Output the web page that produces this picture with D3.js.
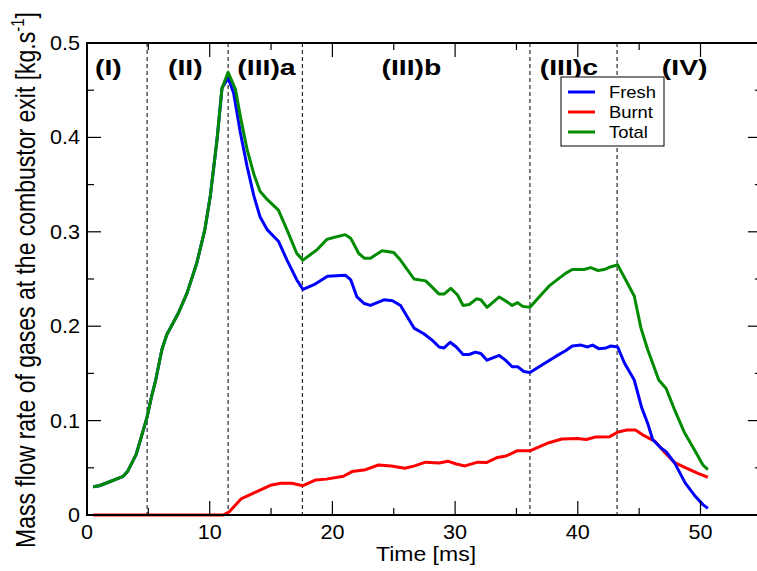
<!DOCTYPE html>
<html><head><meta charset="utf-8">
<script src="https://cdn.jsdelivr.net/npm/d3@7"></script>
<style>html,body{margin:0;padding:0;background:#fff;}svg{display:block;}</style>
</head><body>
<script>
// ---- data ----
const seriesNames = ["Fresh", "Burnt", "Total"];
const seriesColors = ["#0000ff", "#ff0000", "#008b00"];
const fresh = [[0.5,0.030],[1.0,0.031],[2.0,0.036],[2.95,0.041],[3.3,0.046],[4.0,0.064],[4.5,0.086],[4.9,0.104],[5.25,0.125],[5.6,0.143],[6.1,0.175],[6.5,0.191],[7.45,0.214],[8.15,0.235],[8.95,0.267],[9.6,0.302],[10.05,0.338],[10.6,0.398],[11.0,0.452],[11.5,0.463],
 [11.95,0.447],[12.5,0.405],[13.05,0.369],[13.6,0.338],[14.1,0.316],[14.7,0.302],[15.6,0.290],[16.3,0.270],[17.1,0.249],[17.6,0.239],[18.5,0.244],[19.6,0.253],[21.05,0.254],[21.5,0.249],[22.0,0.231],[22.6,0.224],[23.1,0.222],[24.2,0.228],[24.9,0.227],[25.55,0.222],[26.65,0.198],[27.45,0.192],[28.15,0.185],[28.7,0.178],[29.1,0.177],[29.6,0.183],[30.1,0.178],[30.65,0.170],[31.15,0.170],[31.65,0.1725],[32.1,0.171],[32.6,0.164],[33.6,0.169],[34.1,0.164],[34.65,0.157],[35.1,0.157],[35.6,0.152],[36.1,0.151],[36.85,0.157],[37.7,0.164],[38.2,0.168],[39.0,0.174],[39.55,0.179],[40.25,0.180],[40.8,0.178],[41.2,0.180],[41.75,0.176],[42.3,0.177],[42.7,0.179],[43.25,0.178],[43.8,0.161],[44.6,0.143],[45.2,0.114],[45.7,0.097],[46.1,0.080],[46.8,0.0707],[47.2,0.067],[47.9,0.055],[48.75,0.034],[49.5,0.021],[50.2,0.011],[50.6,0.007]];
const burnt = [[0.5,0],[11.1,0],[11.6,0.0035],[12.55,0.017],[13.7,0.024],[14.95,0.0315],[15.8,0.0336],[16.7,0.0336],[17.6,0.031],[18.6,0.037],[19.5,0.038],[20.9,0.041],[21.6,0.046],[22.7,0.048],[23.75,0.053],[24.8,0.052],[25.9,0.0495],[26.7,0.052],[27.6,0.056],[28.7,0.055],[29.4,0.057],[30.1,0.054],[30.8,0.052],[31.85,0.056],[32.55,0.0555],[33.45,0.061],[34.15,0.0625],[35.05,0.068],[36.1,0.068],[37.5,0.076],[38.7,0.0805],[39.95,0.081],[40.7,0.080],[41.4,0.0825],[42.6,0.083],[43.3,0.088],[44.0,0.090],[44.7,0.090],[45.4,0.084],[46.3,0.078],[47.1,0.066],[47.9,0.0555],[48.8,0.050],[49.8,0.044],[50.6,0.040]];
const total = [[0.5,0.030],[1.0,0.031],[2.0,0.036],[2.95,0.041],[3.3,0.046],[4.0,0.064],[4.5,0.086],[4.9,0.104],[5.25,0.125],[5.6,0.143],[6.1,0.175],[6.5,0.191],[7.45,0.214],[8.15,0.235],[8.95,0.267],[9.6,0.302],[10.05,0.338],[10.6,0.398],[11.0,0.452],[11.5,0.469],
 [12.1,0.451],[12.5,0.422],[13.05,0.387],[13.6,0.361],[14.1,0.343],[14.7,0.334],[15.6,0.323],[16.3,0.302],[17.1,0.277],[17.6,0.270],[18.75,0.281],[19.55,0.292],[20.1,0.294],[21.05,0.297],[21.5,0.293],[22.15,0.277],[22.6,0.272],[23.1,0.272],[24.05,0.280],[25.0,0.278],[25.55,0.270],[26.65,0.250],[27.6,0.248],[28.0,0.243],[28.7,0.234],[29.1,0.234],[29.65,0.240],[30.2,0.233],[30.65,0.222],[31.15,0.223],[31.75,0.229],[32.1,0.228],[32.6,0.220],[33.6,0.231],[34.1,0.227],[34.65,0.222],[35.1,0.225],[35.5,0.221],[36.1,0.220],[36.85,0.231],[37.7,0.243],[38.2,0.248],[39.0,0.256],[39.55,0.260],[40.5,0.260],[41.05,0.262],[41.65,0.259],[42.15,0.260],[42.7,0.263],[43.25,0.265],[44.6,0.232],[45.15,0.198],[45.7,0.175],[46.6,0.143],[47.2,0.134],[47.9,0.111],[48.7,0.087],[49.5,0.069],[50.2,0.053],[50.6,0.048]];
const phaseBounds = [4.9, 11.5, 17.55, 36.1, 43.2];
const phaseLabels = ["(I)", "(II)", "(III)a", "(III)b", "(III)c", "(IV)"];
const phaseLabelStart = [0.65, 6.6, 12.25, 24.0, 36.9, 46.85];
const xTicks = [0, 10, 20, 30, 40, 50];
const xMinor = [5, 15, 25, 35, 45, 55];
const yTicks = [0, 0.1, 0.2, 0.3, 0.4, 0.5];
const yTickLabels = ["0", "0.1", "0.2", "0.3", "0.4", "0.5"];
const yMinor = [0.05, 0.15, 0.25, 0.35, 0.45];

// ---- layout ----
const W = 757, H = 571;
const FONT = "'Liberation Sans', Arial, Helvetica, sans-serif";
const L = 87, R = 87 + 12.27 * 55, T = 43, B = 515;

const svg = d3.select("body").append("svg").attr("width", W).attr("height", H);
const x = d3.scaleLinear().domain([0, 55]).range([L, R]);
const y = d3.scaleLinear().domain([0, 0.5]).range([B, T]);

function txt(g, px, py, s, o) {
  return g.append("text")
    .attr("transform", `translate(${px},${py}) scale(${o.sx || 1},1)`)
    .attr("font-family", FONT).attr("font-size", o.size)
    .attr("font-weight", o.weight || "normal")
    .attr("text-anchor", o.anchor || "start")
    .attr("fill", "#000").text(s);
}

// dashed phase boundaries
svg.append("g").selectAll("line").data(phaseBounds).join("line")
  .attr("x1", d => x(d)).attr("x2", d => x(d)).attr("y1", T).attr("y2", B)
  .attr("stroke", "#000").attr("stroke-width", 1).attr("stroke-dasharray", "4,3");

// series lines
const line = d3.line().x(d => x(d[0])).y(d => y(d[1]));
const allSeries = [fresh, burnt, total];
[1, 0, 2].forEach(i => {
  svg.append("path").datum(allSeries[i]).attr("d", line)
    .attr("fill", "none").attr("stroke", seriesColors[i]).attr("stroke-width", 3)
    .attr("stroke-linejoin", "round");
});

// axes (inward ticks, mirrored)
const axG = svg.append("g");
const tickStyle = sel => sel.attr("stroke", "#000").attr("stroke-width", 1.2);
xTicks.forEach(v => {
  tickStyle(axG.append("line").attr("x1", x(v)).attr("x2", x(v)).attr("y1", B).attr("y2", B - 14));
  tickStyle(axG.append("line").attr("x1", x(v)).attr("x2", x(v)).attr("y1", T).attr("y2", T + 14));
});
xMinor.forEach(v => {
  tickStyle(axG.append("line").attr("x1", x(v)).attr("x2", x(v)).attr("y1", B).attr("y2", B - 7));
  tickStyle(axG.append("line").attr("x1", x(v)).attr("x2", x(v)).attr("y1", T).attr("y2", T + 7));
});
yTicks.forEach(v => {
  tickStyle(axG.append("line").attr("x1", L).attr("x2", L + 14).attr("y1", y(v)).attr("y2", y(v)));
  tickStyle(axG.append("line").attr("x1", R).attr("x2", R - 14).attr("y1", y(v)).attr("y2", y(v)));
});
yMinor.forEach(v => {
  tickStyle(axG.append("line").attr("x1", L).attr("x2", L + 7).attr("y1", y(v)).attr("y2", y(v)));
  tickStyle(axG.append("line").attr("x1", R).attr("x2", R - 7).attr("y1", y(v)).attr("y2", y(v)));
});
axG.append("rect").attr("x", L).attr("y", T).attr("width", R - L).attr("height", B - T)
  .attr("fill", "none").attr("stroke", "#000").attr("stroke-width", 2);

// tick labels
xTicks.forEach(v => txt(svg, x(v), 539, String(v), {size: 20, anchor: "middle", sx: 1.08}));
yTicks.forEach((v, i) => txt(svg, 80, y(v) + 7, yTickLabels[i], {size: 20, anchor: "end", sx: 1.08}));

// axis titles
txt(svg, 426, 561, "Time [ms]", {size: 20, anchor: "middle", sx: 1.15});
const yt = svg.append("text")
  .attr("transform", "translate(35,280) scale(1.2,1) rotate(-90)")
  .attr("font-family", FONT).attr("font-size", 23).attr("text-anchor", "middle");
yt.append("tspan").text("Mass flow rate of gases at the combustor exit [kg.s");
yt.append("tspan").attr("font-size", 15).attr("dy", -9).text("-1");
yt.append("tspan").attr("dy", 9).text("]");

// phase labels
phaseLabels.forEach((s, i) => txt(svg, x(phaseLabelStart[i]), 75, s, {size: 22, weight: "bold", sx: 1.29}));

// legend
const lg = svg.append("g");
lg.append("rect").attr("x", 561).attr("y", 77).attr("width", 103).attr("height", 69)
  .attr("fill", "#fff").attr("stroke", "#000").attr("stroke-width", 1);
seriesNames.forEach((s, i) => {
  const yy = 92 + i * 20;
  lg.append("line").attr("x1", 568).attr("x2", 595).attr("y1", yy).attr("y2", yy)
    .attr("stroke", seriesColors[i]).attr("stroke-width", 3);
  txt(lg, 609, yy + 6, s, {size: 16, sx: 1.15});
});
</script>
</body></html>
